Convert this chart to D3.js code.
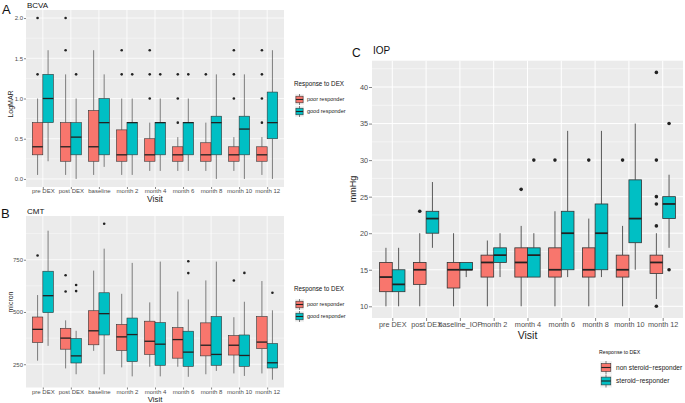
<!DOCTYPE html>
<html><head><meta charset="utf-8">
<script src="https://cdn.jsdelivr.net/npm/d3@7"></script>
<style>body{margin:0;background:#fff} svg{display:block;font-family:"Liberation Sans",Arial,sans-serif}</style>
</head><body><svg id="c" width="685" height="403"></svg>
<script>
// ---------- data ----------
const visitsAB = ["pre DEX","post DEX","baseline","month 2","month 4","month 6","month 8","month 10","month 12"];
const visitsC  = ["pre DEX","post DEX","baseline_IOP","month 2","month 4","month 6","month 8","month 10","month 12"];
// box stats: [lower whisker, q1, median, q3, upper whisker]
const bcvaPoor = [[0.05,0.30,0.40,0.70,1.00],[0.05,0.22,0.40,0.70,1.30],[0.05,0.22,0.40,0.85,1.60],[0.05,0.22,0.30,0.61,1.00],[0.10,0.22,0.30,0.50,0.70],[0.10,0.22,0.30,0.40,0.52],[0.10,0.22,0.30,0.45,0.70],[0.10,0.22,0.30,0.40,0.52],[0.05,0.22,0.30,0.40,0.52]];
const bcvaPoorOut = [[2.0,1.3],[2.0,1.6],[],[1.6,1.3],[1.6,1.3,1.0],[1.3,1.0,0.7],[1.3],[1.6,1.3,1.0],[1.6,1.3,1.0,0.7]];
const bcvaGood = [[0.22,0.70,1.00,1.30,1.60],[0.00,0.30,0.52,0.70,1.00],[0.15,0.30,0.70,1.00,1.30],[0.05,0.30,0.70,0.70,1.00],[0.10,0.30,0.70,0.70,1.00],[0.10,0.30,0.70,0.70,1.00],[0.00,0.30,0.70,0.78,1.30],[0.00,0.30,0.62,0.78,1.30],[0.00,0.50,0.70,1.08,1.60]];
const bcvaGoodOut = [[],[1.3],[],[1.3],[1.3],[1.3],[],[],[]];

const cmtPoor = [[267,354,417,476,581],[230,322,375,422,460],[314,343,410,506,698],[235,316,381,440,587],[238,297,360,456,546],[238,279,368,425,598],[202,290,341,448,651],[206,294,341,387,475],[206,325,356,478,648]];
const cmtPoorOut = [[770],[676,598],[],[],[],[],[],[651],[]];
const cmtGood = [[338,497,578,695,889],[202,256,290,373,410],[202,390,492,592,803],[192,263,392,471,735],[192,245,346,449,741],[190,240,308,408,560],[218,245,297,478,741],[194,240,292,390,549],[176,232,257,349,508]];
const cmtGoodOut = [[],[629,600],[922],[],[],[743,686],[],[687],[592]];

const iopNon = [[10,12,14,16,18],[10,13,15,16,20],[10,12.5,15,16,20],[10,14,16,17,19],[10,14,16,18,21],[10,14,15,18,23],[10,14,15,18,22],[10,14,15,17,21],[11,14.5,16,17,20]];
const iopNonOut = [[],[23],[],[],[26],[30],[30],[30],[42,30,25,24,21,10]];
const iopSte = [[10,12,13,15,18],[18,20,22,23,27],[14,15,15,16,16],[14,16,17,18,20],[14,14,17,18,20],[14,15,20,23,34],[14,15,20,24,34],[15,18.7,22,27.3,35],[18,22,24,25,28]];
const iopSteOut = [[],[],[],[],[30],[],[],[],[35,15]];

const ticksA = [0,0.5,1,1.5,2], ticksB = [250,500,750], ticksC = [10,15,20,25,30,35,40];
const legendAB = ["poor responder","good responder"];
const legendC = ["non steroid\u2212responder","steroid\u2212responder"];
const RED = "#F8766D", TEAL = "#00BFC4";

// ---------- drawing ----------
const svg = d3.select("#c");

function expandDomain(series){
  const all = [];
  series.forEach(s=>{ s.stats.forEach(a=>all.push(...a)); s.out.forEach(a=>all.push(...a)); });
  const mn = d3.min(all), mx = d3.max(all), r = mx-mn;
  return [mn-0.05*r, mx+0.05*r];
}

function drawPanel(p){
  const g = svg.append("g");
  const x = d3.scalePoint().domain(p.cats).range([p.left,p.right]).padding(0.6);
  const y = d3.scaleLinear().domain(expandDomain(p.series)).range([p.bottom,p.top]);
  g.append("rect").attr("x",p.left).attr("y",p.top).attr("width",p.right-p.left).attr("height",p.bottom-p.top).attr("fill","#EBEBEB");
  const ticks = p.ticks;
  const minor = [];
  const dt = ticks[1]-ticks[0];
  for(let t=ticks[0]-dt/2; t<=ticks[ticks.length-1]+dt; t+=dt){ const [a,b]=y.domain(); if(t>a && t<b) minor.push(t); }
  g.selectAll(".mn").data(minor).join("line").attr("x1",p.left).attr("x2",p.right).attr("y1",d=>y(d)).attr("y2",d=>y(d)).attr("stroke","#fff").attr("stroke-width",p.gw*0.5);
  g.selectAll(".mj").data(ticks).join("line").attr("x1",p.left).attr("x2",p.right).attr("y1",d=>y(d)).attr("y2",d=>y(d)).attr("stroke","#fff").attr("stroke-width",p.gw);
  g.selectAll(".vx").data(p.cats).join("line").attr("x1",d=>x(d)).attr("x2",d=>x(d)).attr("y1",p.top).attr("y2",p.bottom).attr("stroke","#fff").attr("stroke-width",p.gw);

  const bw = x.step()*0.75/2;
  p.series.forEach((s,si)=>{
    const off = (si===0?-1:1)*bw/2;
    s.stats.forEach((st,i)=>{
      const cx = x(p.cats[i])+off;
      const bg = g.append("g");
      bg.append("line").attr("x1",cx).attr("x2",cx).attr("y1",y(st[4])).attr("y2",y(st[3])).attr("stroke","#333").attr("stroke-width",p.lw);
      bg.append("line").attr("x1",cx).attr("x2",cx).attr("y1",y(st[1])).attr("y2",y(st[0])).attr("stroke","#333").attr("stroke-width",p.lw);
      bg.append("rect").attr("x",cx-bw/2).attr("width",bw).attr("y",y(st[3])).attr("height",Math.max(0.5,y(st[1])-y(st[3]))).attr("fill",s.color).attr("stroke","#333").attr("stroke-width",p.lw);
      bg.append("line").attr("x1",cx-bw/2).attr("x2",cx+bw/2).attr("y1",y(st[2])).attr("y2",y(st[2])).attr("stroke","#222").attr("stroke-width",p.lw*2.2);
      bg.selectAll("circle").data(s.out[i]).join("circle").attr("cx",cx).attr("cy",d=>y(d)).attr("r",p.r).attr("fill","#222");
    });
  });

  const ya = g.append("g").attr("transform",`translate(${p.left},0)`).call(d3.axisLeft(y).tickValues(ticks).tickFormat(d3.format(p.fmt)).tickSize(p.ts).tickPadding(1));
  const xa = g.append("g").attr("transform",`translate(0,${p.bottom})`).call(d3.axisBottom(x).tickSize(p.ts).tickPadding(p.xpad));
  [ya,xa].forEach(a=>{ a.select(".domain").remove(); a.selectAll("line").attr("stroke","#333").attr("stroke-width",0.6);
    a.selectAll("text").attr("fill","#4D4D4D").style("font-size",p.tf+"px").style("font-family","'Liberation Sans',Arial,sans-serif"); });

  g.append("text").attr("x",(p.left+p.right)/2).attr("y",p.xlabY).attr("text-anchor","middle").style("font-size",p.af+"px").attr("fill","#222").text("Visit");
  g.append("text").attr("transform",`translate(${p.ylabX},${p.ylabYc}) rotate(-90)`).attr("text-anchor","middle").style("font-size",p.yf+"px").attr("fill","#222").text(p.ylab);
  g.append("text").attr("x",p.left+1).attr("y",p.titleY).style("font-size",p.titleF+"px").attr("fill","#111").text(p.title);
  g.append("text").attr("x",p.tagX).attr("y",p.tagY).style("font-size",p.tagF+"px").attr("fill","#111").text(p.tag);

  // legend
  const L = p.legend;
  g.append("text").attr("x",L.x).attr("y",L.titleY).attr("dy","0.35em").style("font-size",L.titleF+"px").attr("fill","#111").text("Response to DEX");
  L.labels.forEach((lab,i)=>{
    const ky = L.keyY + i*L.keyStep;
    const kx = L.x + 1;
    g.append("rect").attr("x",kx).attr("y",ky).attr("width",L.kw).attr("height",L.kh).attr("fill","#F2F2F2");
    const cx = kx+L.kw/2, pad = L.kh*0.2;
    g.append("line").attr("x1",cx).attr("x2",cx).attr("y1",ky).attr("y2",ky+L.kh).attr("stroke","#333").attr("stroke-width",0.6);
    g.append("rect").attr("x",kx+L.kw*0.1).attr("y",ky+pad).attr("width",L.kw*0.8).attr("height",L.kh-2*pad).attr("fill",[RED,TEAL][i]).attr("stroke","#333").attr("stroke-width",0.6);
    g.append("line").attr("x1",kx+L.kw*0.1).attr("x2",kx+L.kw*0.9).attr("y1",ky+L.kh/2).attr("y2",ky+L.kh/2).attr("stroke","#222").attr("stroke-width",1.1);
    g.append("text").attr("x",L.x+L.kw+L.gap).attr("y",ky+L.kh/2).attr("dy","0.35em").style("font-size",L.labelF+"px").attr("fill","#222").text(lab);
  });
}

drawPanel({left:26,right:284,top:10,bottom:187,cats:visitsAB,
  series:[{stats:bcvaPoor,out:bcvaPoorOut,color:RED},{stats:bcvaGood,out:bcvaGoodOut,color:TEAL}],
  ticks:ticksA,fmt:".1f",gw:0.8,lw:0.6,r:1.3,ts:2,xpad:0,tf:6,af:8.5,yf:7,xlabY:201.5,ylabX:13,ylabYc:104,ylab:"LogMAR",
  title:"BCVA",titleY:8,titleF:8,tag:"A",tagX:2,tagY:14,tagF:13,
  legend:{x:294,titleY:84,titleF:6.3,keyY:94,keyStep:12,kw:9,kh:11,gap:4,labelF:5.5,labels:legendAB}});

drawPanel({left:26,right:284,top:216,bottom:387.5,cats:visitsAB,
  series:[{stats:cmtPoor,out:cmtPoorOut,color:RED},{stats:cmtGood,out:cmtGoodOut,color:TEAL}],
  ticks:ticksB,fmt:"d",gw:0.8,lw:0.6,r:1.3,ts:2,xpad:0,tf:6,af:7.8,yf:7,xlabY:401.6,ylabX:13,ylabYc:302,ylab:"micron",
  title:"CMT",titleY:213.5,titleF:8,tag:"B",tagX:1,tagY:218,tagF:13,
  legend:{x:294,titleY:289,titleF:6.3,keyY:299,keyStep:12,kw:9,kh:11,gap:4,labelF:5.5,labels:legendAB}});

drawPanel({left:372,right:683,top:60.7,bottom:318,cats:visitsC,
  series:[{stats:iopNon,out:iopNonOut,color:RED},{stats:iopSte,out:iopSteOut,color:TEAL}],
  ticks:ticksC,fmt:"d",gw:1,lw:0.8,r:1.8,ts:3,xpad:1,tf:7.3,af:10.5,yf:9,xlabY:339,ylabX:356,ylabYc:189,ylab:"mmHg",
  title:"IOP",titleY:54,titleF:10,tag:"C",tagX:352,tagY:57,tagF:12,
  legend:{x:599,titleY:352,titleF:5.2,keyY:361,keyStep:13.5,kw:12,kh:13,gap:5,labelF:6.6,labels:legendC}});
</script></body></html>
